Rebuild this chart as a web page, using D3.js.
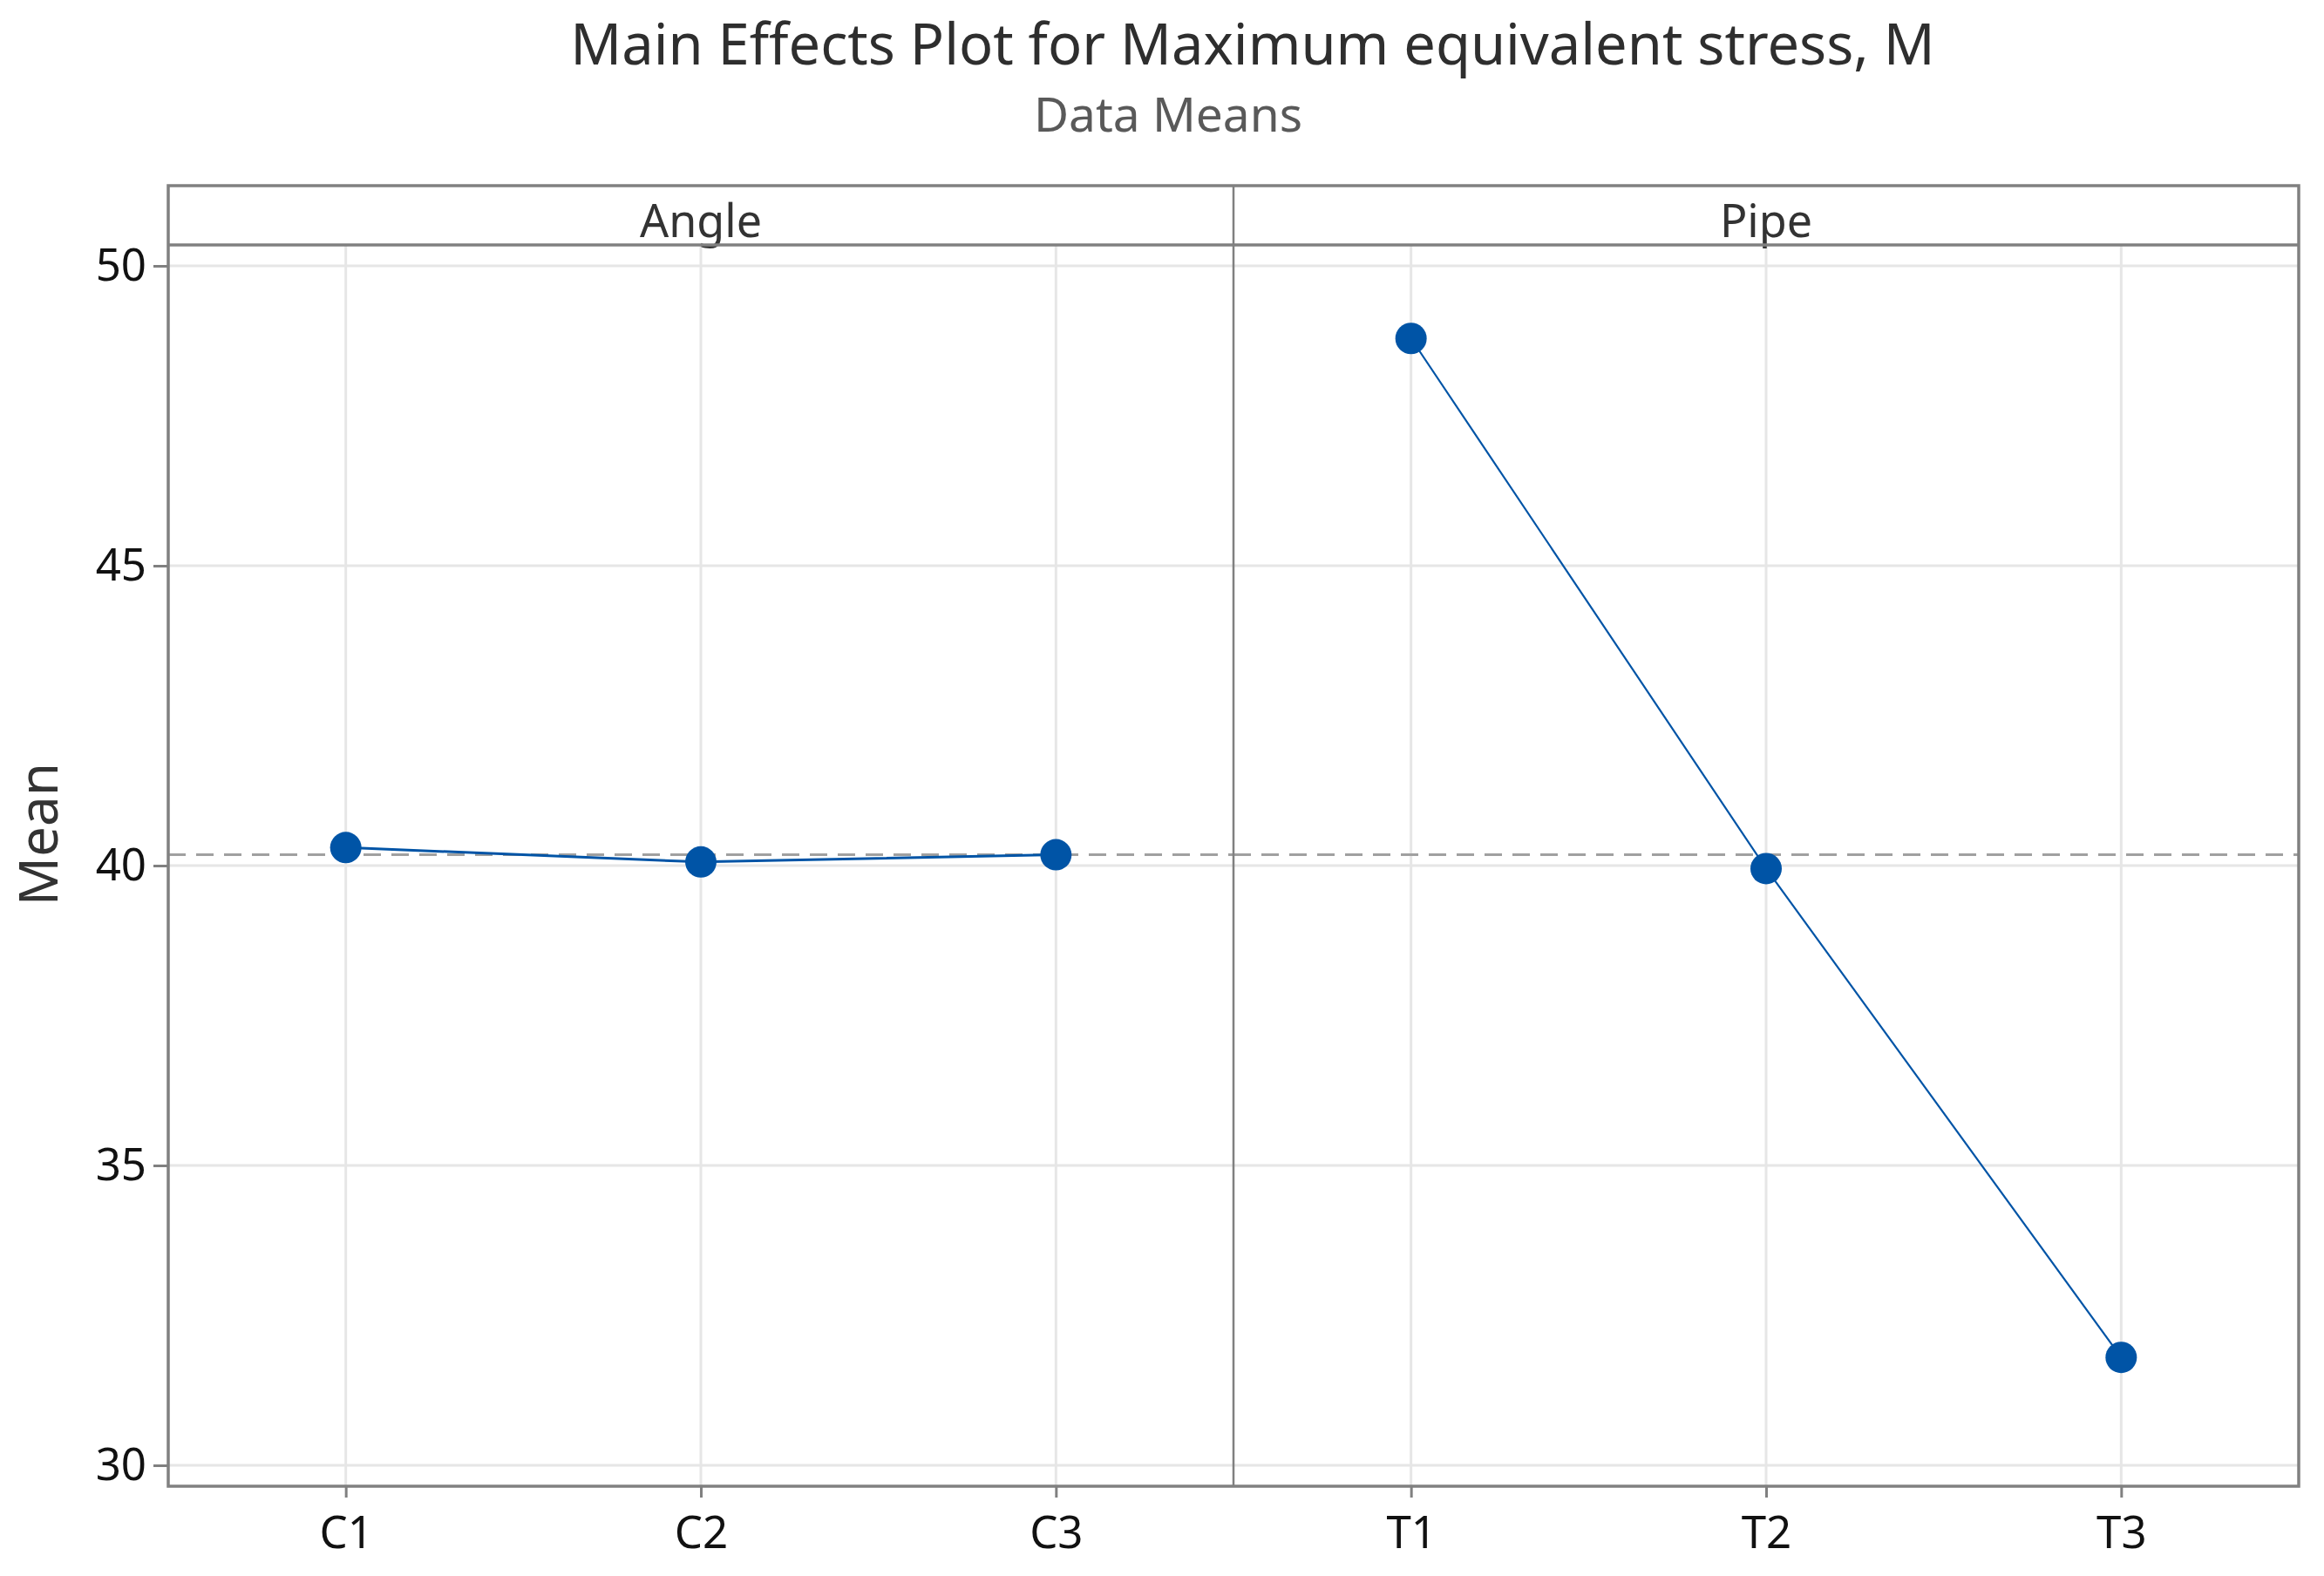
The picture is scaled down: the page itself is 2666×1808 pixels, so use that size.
<!DOCTYPE html>
<html>
<head>
<meta charset="utf-8">
<script src="https://cdn.jsdelivr.net/npm/d3@7"></script>
<style>
  html, body { margin: 0; padding: 0; background: #fff; }
  svg { display: block; font-family: "Noto Sans", "Open Sans", sans-serif; }
</style>
</head>
<body>
<svg id="chart" width="2666" height="1808"></svg>
<script>
// ---- data ----
const titleText = "Main Effects Plot for Maximum equivalent stress, M";
const subtitleText = "Data Means";
const yLabel = "Mean";
const factors = ["Angle", "Pipe"];
const angleLevels = ["C1", "C2", "C3"];
const angleMeans = [40.30, 40.06, 40.18];
const pipeLevels = ["T1", "T2", "T3"];
const pipeMeans = [48.79, 39.95, 31.80];
const yTicks = [30, 35, 40, 45, 50];

// ---- layout ----
const left = 193, right = 2637, stripTop = 213, stripBottom = 281, bottom = 1705;
const blue = "#0054a6";
const frameCol = "#808080";
const gridCol = "#e6e6e6";

const svg = d3.select("#chart");

const y = d3.scaleLinear().domain([30, 50]).range([1681, 305]);
const panelX = d3.scaleBand().domain(factors).range([left, right]).padding(0);

const panels = [
  { name: factors[0], levels: angleLevels, means: angleMeans, lw: 3 },
  { name: factors[1], levels: pipeLevels, means: pipeMeans, lw: 2.2 }
];
const grandMean = d3.mean(angleMeans.concat(pipeMeans));

// Title
svg.append("text").attr("x", 1437).attr("y", 74).attr("text-anchor", "middle")
  .attr("font-size", 65).attr("fill", "#2e2e2e").text(titleText);
svg.append("text").attr("x", 1340).attr("y", 151).attr("text-anchor", "middle")
  .attr("font-size", 55).attr("fill", "#595959").text(subtitleText);

// Y axis label
svg.append("text").attr("transform", "translate(66,957) rotate(-90)")
  .attr("text-anchor", "middle").attr("font-size", 62).attr("fill", "#333").text(yLabel);

// horizontal gridlines
svg.append("g").selectAll("line").data(yTicks).join("line")
  .attr("x1", left).attr("x2", right)
  .attr("y1", d => y(d)).attr("y2", d => y(d))
  .attr("stroke", gridCol).attr("stroke-width", 3);

// y axis ticks + labels
const yAxis = d3.axisLeft(y).tickValues(yTicks).tickSize(17).tickPadding(8).tickFormat(d3.format("d"));
const gy = svg.append("g").attr("transform", `translate(${left},0)`).call(yAxis);
gy.select(".domain").remove();
gy.selectAll(".tick line").attr("stroke", frameCol).attr("stroke-width", 3);
gy.selectAll(".tick text").attr("font-size", 51).attr("fill", "#111")
  .attr("font-family", "Noto Sans, Open Sans, sans-serif");

panels.forEach(p => {
  const x0 = panelX(p.name), x1 = x0 + panelX.bandwidth();
  const x = d3.scalePoint().domain(p.levels).range([x0, x1]).padding(0.5);
  const g = svg.append("g");

  // vertical gridlines
  g.selectAll("line.vg").data(p.levels).join("line").attr("class", "vg")
    .attr("x1", d => x(d)).attr("x2", d => x(d))
    .attr("y1", stripBottom).attr("y2", bottom)
    .attr("stroke", gridCol).attr("stroke-width", 3);

  // reference line
  g.append("line").attr("x1", x0).attr("x2", x1)
    .attr("y1", y(grandMean)).attr("y2", y(grandMean))
    .attr("stroke", "#a0a0a0").attr("stroke-width", 3).attr("stroke-dasharray", "20,12");

  // data line
  const pts = p.levels.map((l, i) => [x(l), y(p.means[i])]);
  g.append("path").attr("d", d3.line()(pts)).attr("fill", "none")
    .attr("stroke", blue).attr("stroke-width", p.lw);
  g.selectAll("circle").data(pts).join("circle")
    .attr("cx", d => d[0]).attr("cy", d => d[1]).attr("r", 18).attr("fill", blue);

  // x axis ticks + labels
  const xAxis = d3.axisBottom(x).tickSize(13).tickPadding(22);
  const gx = svg.append("g").attr("transform", `translate(0,${bottom})`).call(xAxis);
  gx.select(".domain").remove();
  gx.selectAll(".tick line").attr("stroke", frameCol).attr("stroke-width", 3);
  gx.selectAll(".tick text").attr("font-size", 51).attr("fill", "#111")
    .attr("font-family", "Noto Sans, Open Sans, sans-serif");

  // strip label
  svg.append("text").attr("x", (x0 + x1) / 2).attr("y", 272).attr("text-anchor", "middle")
    .attr("font-size", 52).attr("fill", "#333").text(p.name);
});

// frame
const frame = svg.append("g").attr("fill", "none").attr("stroke", frameCol);
frame.append("rect").attr("x", left).attr("y", stripTop)
  .attr("width", right - left).attr("height", bottom - stripTop).attr("stroke-width", 3.5);
frame.append("line").attr("x1", left).attr("x2", right)
  .attr("y1", stripBottom).attr("y2", stripBottom).attr("stroke-width", 3.5);
frame.append("line").attr("x1", panelX(factors[1])).attr("x2", panelX(factors[1]))
  .attr("y1", stripTop).attr("y2", bottom).attr("stroke-width", 2.5);
</script>
</body>
</html>
